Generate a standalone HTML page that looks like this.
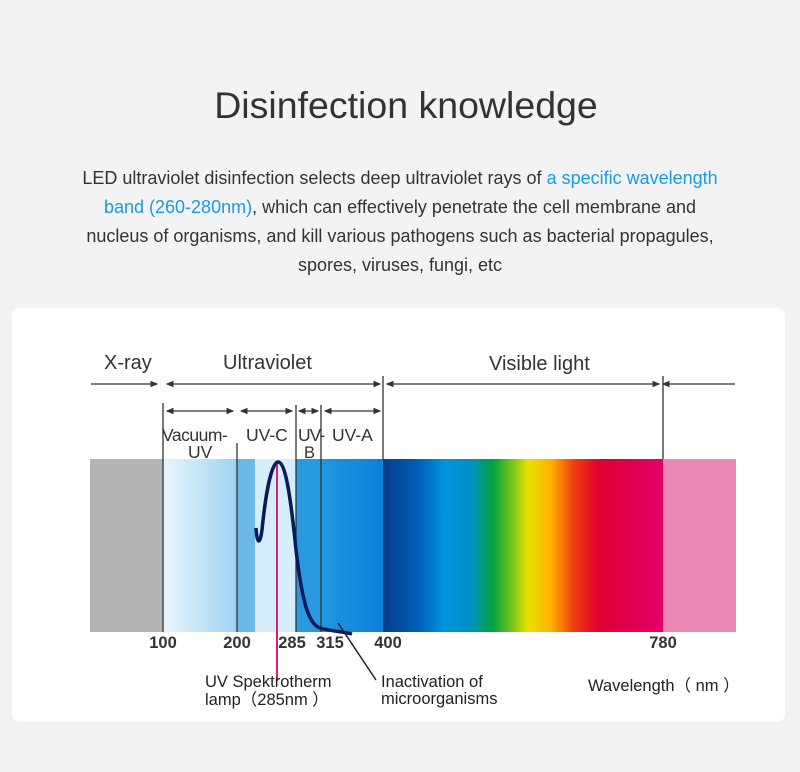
<!DOCTYPE html>
<html><head><style>
html,body{margin:0;padding:0;}
body{width:800px;height:772px;background:#f3f3f3;font-family:"Liberation Sans",sans-serif;position:relative;overflow:hidden;}
.t{position:absolute;left:0;width:800px;text-align:center;}
</style></head><body>
<div class="t" style="top:84px;left:6px;font-size:37.5px;color:#333;">Disinfection knowledge</div>
<div class="t" style="top:164px;font-size:18px;line-height:29px;color:#333;">LED ultraviolet disinfection selects deep ultraviolet rays of <span style="color:#1a9be0">a specific wavelength</span><br><span style="color:#1a9be0">band (260-280nm)</span>, which can effectively penetrate the cell membrane and<br>nucleus of organisms, and kill various pathogens such as bacterial propagules,<br>spores, viruses, fungi, etc</div>
<div style="position:absolute;left:12px;top:308px;width:773px;height:414px;background:#fff;border-radius:8px;"></div>
<svg style="position:absolute;left:0;top:0" width="800" height="772">
<defs>
<linearGradient id="vac" x1="0" x2="1"><stop offset="0" stop-color="#eaf6fd"/><stop offset="1" stop-color="#9fd3f1"/></linearGradient>
<linearGradient id="uva" x1="0" x2="1"><stop offset="0" stop-color="#2198e0"/><stop offset="1" stop-color="#0b7fd6"/></linearGradient>
<linearGradient id="vis" x1="0" x2="1">
<stop offset="0" stop-color="#0a3a8a"/><stop offset="0.13" stop-color="#0060b8"/><stop offset="0.22" stop-color="#0095dd"/><stop offset="0.31" stop-color="#0090c8"/><stop offset="0.39" stop-color="#00a040"/><stop offset="0.45" stop-color="#60c020"/><stop offset="0.52" stop-color="#ece000"/><stop offset="0.6" stop-color="#ffb000"/><stop offset="0.68" stop-color="#f04010"/><stop offset="0.77" stop-color="#e00030"/><stop offset="1" stop-color="#e2006a"/></linearGradient>
<marker id="ah" markerWidth="6" markerHeight="6" refX="5" refY="3" orient="auto-start-reverse"><path d="M0,0.5 L6,3 L0,5.5z" fill="#333"/></marker>
</defs>
<rect x="90" y="459" width="73" height="173" fill="#b4b4b4"/>
<rect x="163" y="459" width="74" height="173" fill="url(#vac)"/>
<rect x="237" y="459" width="18" height="173" fill="#6cb9e8"/>
<rect x="255" y="459" width="41" height="173" fill="#d6edfa"/>
<rect x="296" y="459" width="26" height="173" fill="#2a9ae0"/>
<rect x="322" y="459" width="61" height="173" fill="url(#uva)"/>
<rect x="383" y="459" width="280" height="173" fill="url(#vis)"/>
<rect x="663" y="459" width="73" height="173" fill="#ea88b4"/>
<g stroke="#333" stroke-width="1.3">
<line x1="163" y1="403" x2="163" y2="632"/>
<line x1="237" y1="443" x2="237" y2="632"/>
<line x1="296" y1="405" x2="296" y2="632"/>
<line x1="321" y1="405" x2="321" y2="632"/>
<line x1="383" y1="376" x2="383" y2="459"/>
<line x1="663" y1="376" x2="663" y2="459"/>
</g>
<g stroke="#333" stroke-width="1.3" marker-end="url(#ah)">
<line x1="91" y1="384" x2="157" y2="384"/>
<line x1="663" y1="384" x2="735" y2="384" marker-end="none" marker-start="url(#ah)"/>
</g>
<g stroke="#333" stroke-width="1.3" marker-end="url(#ah)" marker-start="url(#ah)">
<line x1="167" y1="384" x2="380" y2="384"/>
<line x1="387" y1="384" x2="659" y2="384"/>
<line x1="167" y1="411" x2="233" y2="411"/>
<line x1="241" y1="411" x2="292" y2="411"/>
<line x1="299" y1="411" x2="318" y2="411"/>
<line x1="325" y1="411" x2="380" y2="411"/>
</g>
<line x1="277" y1="463" x2="277" y2="681" stroke="#d4207a" stroke-width="2"/>
<path d="M256,528 C257,545 260,545 262,530 C266,490 272,462 278,462 C285,462 290,490 296,550 C302,600 308,624 320,628 C330,631 345,632 352,634" fill="none" stroke="#0b1a5a" stroke-width="3.5"/>
<line x1="338" y1="623" x2="376" y2="680" stroke="#222" stroke-width="1.5"/>
<g font-family="Liberation Sans,sans-serif" fill="#333">
<text x="104" y="369" font-size="20">X-ray</text>
<text x="223" y="369" font-size="20">Ultraviolet</text>
<text x="489" y="370" font-size="20">Visible light</text>
<text x="162" y="441" font-size="17.5" letter-spacing="-0.5">Vacuum-</text>
<text x="188" y="458" font-size="17.5">UV</text>
<text x="246" y="441" font-size="17.5">UV-C</text>
<text x="298" y="441" font-size="17.5" letter-spacing="-1">UV-</text>
<text x="304" y="458" font-size="16.5">B</text>
<text x="332" y="441" font-size="17.5">UV-A</text>
<g font-size="16.5" font-weight="bold" text-anchor="middle">
<text x="163" y="648">100</text><text x="237" y="648">200</text><text x="292" y="648">285</text><text x="330" y="648">315</text><text x="388" y="648">400</text><text x="663" y="648">780</text>
</g>
<g font-size="16.5" fill="#222">
<text x="205" y="687">UV Spektrotherm</text>
<text x="205" y="705">lamp（285nm ）</text>
<text x="381" y="687">Inactivation  of</text>
<text x="381" y="704">microorganisms</text>
<text x="588" y="691">Wavelength（ nm ）</text>
</g>
</g>
</svg>
</body></html>
